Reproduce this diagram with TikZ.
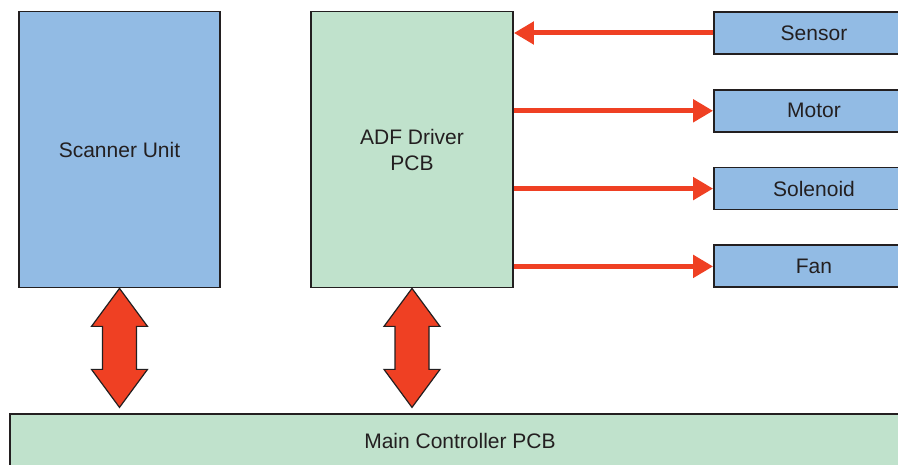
\documentclass[tikz,border=0pt]{standalone}
\usepackage{fontspec}
\setmainfont{Liberation Sans}
\usepackage{tikz}
\usetikzlibrary{arrows.meta,positioning,calc}

\definecolor{unitblue}{RGB}{146,187,228}
\definecolor{pcbgreen}{RGB}{192,226,204}
\definecolor{sigred}{RGB}{239,64,35}
\definecolor{edgegray}{RGB}{35,31,32}

\begin{document}
\begin{tikzpicture}[x=1pt, y=-1pt, node distance=34pt,
    every node/.style={font=\fontsize{21}{26}\selectfont, text=edgegray},
    unit/.style={draw=edgegray, line width=1.8pt, fill=unitblue, inner sep=0pt},
    pcb/.style={draw=edgegray, line width=1.8pt, fill=pcbgreen, inner sep=0pt},
    part/.style={unit, minimum width=200pt, minimum height=42pt},
    sig/.style={draw=sigred, line width=5pt, -{Triangle[length=20pt, width=22pt]}},
    bus/.style={draw=edgegray, line width=1.2pt, fill=sigred, line join=miter}]
    \useasboundingbox (0,0) rectangle (898,465);
    \node (scanner) [unit, minimum width=201pt, minimum height=276pt] at (119.5,149.5) {Scanner Unit};
    \node (adf) [pcb, minimum width=202pt, minimum height=276pt, align=center] at (412,149.5) {ADF Driver\\PCB};
    \node (sensor) [part] at (814,33) {Sensor};
    \node (motor) [part, below=of sensor] {Motor};
    \node (solenoid) [part, below=of motor] {Solenoid};
    \node (fan) [part, below=of solenoid] {Fan};
    \node (main) [pcb, minimum width=900pt, minimum height=54pt] at (460,441) {Main Controller PCB};
    \draw[sig] (sensor.west) -- (sensor.west -| adf.east);
    \foreach \dev in {motor,solenoid,fan}
      \draw[sig] (adf.east |- \dev.west) -- (\dev.west);
    \foreach \src in {scanner,adf}
      \draw[bus] (\src.south) -- ++(28,38) -- ++(-11,0) -- ++(0,43) -- ++(11,0) -- ++(-28,38)
        -- ++(-28,-38) -- ++(11,0) -- ++(0,-43) -- ++(-11,0) -- cycle;
  \end{tikzpicture}
\end{document}
